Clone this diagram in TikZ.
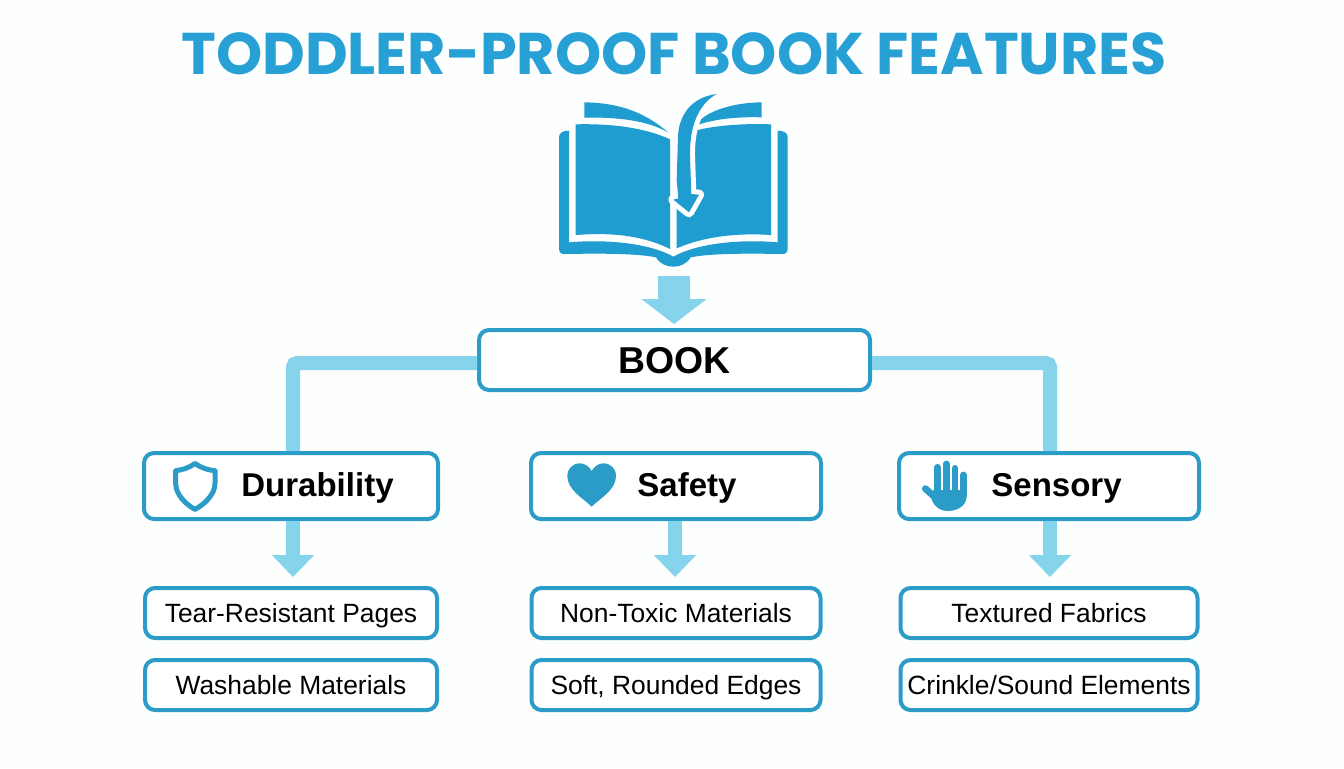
\documentclass[tikz,border=0pt]{standalone}
\usepackage{fontspec}
\setmainfont{Liberation Sans}
\newfontfamily\titlefont{Poppins}
\usepackage{tikz}
\usetikzlibrary{arrows.meta, positioning}
\definecolor{bookblue}{HTML}{1F9DD0}
\definecolor{edgeblue}{HTML}{2B9CC8}
\definecolor{linkblue}{HTML}{86D3EC}
\definecolor{titleblue}{HTML}{26A0D5}
\definecolor{paper}{HTML}{FDFEFE}

\tikzset{
    rootbox/.style={draw=edgeblue, line width=2pt, fill=white, rounded corners=5pt,
                    minimum width=195.5pt, minimum height=30pt, inner sep=0pt,
                    text height=13.4pt, text depth=0pt,
                    font=\fontsize{18.7}{20}\selectfont\bfseries},
    catbox/.style={draw=edgeblue, line width=2pt, fill=white, rounded corners=5pt,
                   minimum height=33pt, inner sep=0pt},
    cattext/.style={inner sep=0pt, anchor=west, text height=11.8pt, text depth=0pt,
                    font=\fontsize{16.5}{20}\selectfont\bfseries},
    itembox/.style={draw=edgeblue, line width=2pt, fill=white, rounded corners=5pt,
                    minimum height=25pt, inner sep=0pt,
                    text height=9.4pt, text depth=0pt,
                    font=\fontsize{13.2}{15}\selectfont},
    link/.style={draw=linkblue, line width=7pt, rounded corners=2pt},
    smallarrow/.style={draw=linkblue, line width=7pt, shorten >=4.5pt,
                       -{Triangle[length=11pt, width=20.5pt]}},
    bigarrow/.style={draw=linkblue, line width=16pt, shorten >=2pt,
                     -{Triangle[length=12.5pt, width=32pt]}},
    icon/.style={shift={#1}, x=0.16667pt, y=-0.16667pt}
}

\begin{document}
\begin{tikzpicture}[x=0.5pt, y=-0.5pt]
        \useasboundingbox[fill=paper] (0,0) rectangle (1344,768);

        % Title
        \node[text=titleblue, font=\titlefont\fontsize{29.4}{34}\selectfont\bfseries] (title)
            at (674,54) {TODDLER-PROOF BOOK FEATURES};

        % Tree of boxes
        \node[rootbox] (book) at (674.5,360) {BOOK};
        \node[catbox, minimum width=147pt] (durability) at (291,486) {};
        \node[catbox, minimum width=145pt] (safety) at (676,486) {};
        \node[catbox, minimum width=150pt] (sensory) at (1049,486) {};

        \node[cattext] (durabilitytext) at (241,485) {Durability};
        \node[cattext] (safetytext) at (637,485) {Safety};
        \node[cattext] (sensorytext) at (991,485) {Sensory};

        \node[itembox, minimum width=146pt, below=32.5pt of durability] (tear) {Tear-Resistant Pages};
        \node[itembox, minimum width=146pt, below=9pt of tear] (wash) {Washable Materials};
        \node[itembox, minimum width=144.5pt, below=32.5pt of safety] (toxic) {Non-Toxic Materials};
        \node[itembox, minimum width=144.5pt, below=9pt of toxic] (soft) {Soft, Rounded Edges};
        \node[itembox, minimum width=148.5pt, below=32.5pt of sensory] (fabric) {Textured Fabrics};
        \node[itembox, minimum width=148.5pt, below=9pt of fabric] (crinkle) {Crinkle/Sound Elements};

        % Connect the boxes
        \coordinate (bookbase) at (674,276);
        \draw[bigarrow] (bookbase) -- (book.north -| bookbase);
        \draw[link] ([yshift=-1.5pt]book.west) -| ([xshift=1pt]durability.north);
        \draw[link] ([yshift=-1.5pt]book.east) -| ([xshift=0.5pt]sensory.north);
        \draw[smallarrow] ([xshift=1pt]durability.south) -- ([xshift=1pt]tear.north);
        \draw[smallarrow] ([xshift=-0.5pt]safety.south) -- ([xshift=-0.5pt]toxic.north);
        \draw[smallarrow] ([xshift=0.5pt]sensory.south) -- ([xshift=0.5pt]fabric.north);

        % Open book with the page-turn arrow
        \begin{scope}[icon={(540,80)}]
            \fill[bookblue] (87,152) -- (87,487)
                .. controls (200,477) and (330,490) .. (400,530)
                .. controls (470,490) and (600,477) .. (713,487)
                -- (713,152) .. controls (730,152) and (743,158) .. (743,172)
                -- (743,505) .. controls (743,516) and (738,522) .. (728,522)
                .. controls (620,520) and (510,520) .. (452,532)
                .. controls (440,552) and (420,560) .. (400,560)
                .. controls (380,560) and (360,552) .. (348,532)
                .. controls (290,520) and (180,520) .. (72,522)
                .. controls (62,522) and (57,516) .. (57,505)
                -- (57,172) .. controls (57,158) and (70,152) .. (87,152) -- cycle;
            \fill[bookblue] (107,133) .. controls (220,130) and (320,145) .. (390,178)
                -- (390,507) .. controls (300,462) and (200,458) .. (107,465) -- cycle;
            \fill[bookblue] (465,152) .. controls (530,135) and (620,130) .. (693,133)
                -- (693,465) .. controls (590,458) and (490,470) .. (410,505)
                -- (410,340) -- (465,340) -- cycle;
            \fill[bookblue] (133,67) -- (133,113) .. controls (260,110) and (340,130) .. (385,158)
                .. controls (320,100) and (240,68) .. (133,67) -- cycle;
            \fill[bookblue] (665,67) -- (665,112) .. controls (600,110) and (530,115) .. (472,135)
                .. controls (480,105) and (560,68) .. (665,67) -- cycle;
            \path[fill=bookblue, line join=round,
                  preaction={draw=white, line width=5pt, line join=round}]
                (530,42) .. controls (450,52) and (416,110) .. (414,170)
                -- (410,300) -- (415,355) -- (400,359) -- (447,397) -- (477,344) -- (454,342)
                -- (450,230) .. controls (448,130) and (480,70) .. (530,42) -- cycle;
        \end{scope}

        % Shield icon
        \begin{scope}[icon={(130,440)}]
            \draw[edgeblue, line width=2.5pt, line join=round]
                (195,70) .. controls (175,85) and (155,90) .. (137,92) -- (137,130)
                .. controls (137,165) and (170,195) .. (195,208)
                .. controls (220,195) and (255,165) .. (255,130) -- (255,92)
                .. controls (235,90) and (215,85) .. (195,70) -- cycle;
        \end{scope}

        % Heart icon
        \begin{scope}[icon={(520,440)}]
            \fill[edgeblue] (215,200) .. controls (190,175) and (142,150) .. (142,108)
                .. controls (142,86) and (158,70) .. (180,70)
                .. controls (195,70) and (208,80) .. (215,93)
                .. controls (222,80) and (235,70) .. (250,70)
                .. controls (272,70) and (288,86) .. (288,108)
                .. controls (288,150) and (240,175) .. (215,200) -- cycle;
        \end{scope}

        % Hand icon
        \begin{scope}[icon={(890,440)}]
            \fill[edgeblue] (130,150) -- (230,150) -- (230,170)
                .. controls (228,200) and (200,213) .. (172,213)
                .. controls (150,213) and (135,200) .. (125,180) -- cycle;
            \draw[edgeblue, line width=3.4pt, line cap=round] (106,146) -- (150,185);
            \foreach \fx/\fy in {143/82, 169/72, 195/85, 220/105}
                \draw[edgeblue, line width=3.4pt, line cap=round] (\fx,\fy) -- (\fx,165);
        \end{scope}
    \end{tikzpicture}
\end{document}
